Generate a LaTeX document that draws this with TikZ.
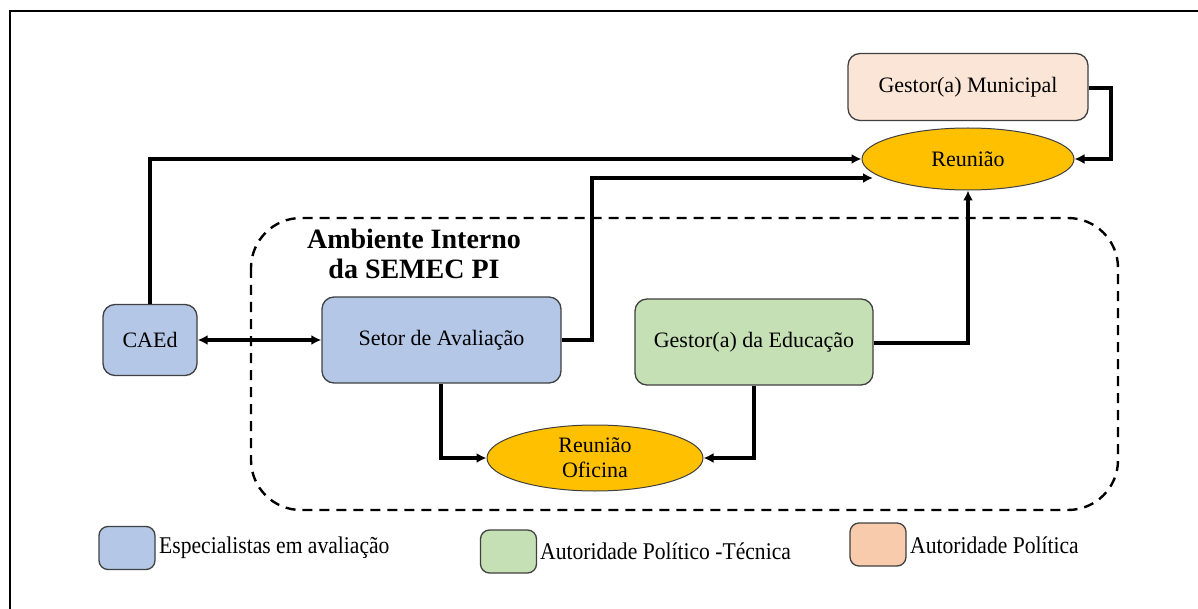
\documentclass[tikz,border=0pt]{standalone}
\usepackage{fontspec}
\setmainfont{Liberation Serif}
\newfontfamily\legfont{Liberation Serif}[FakeStretch=0.9]
\usetikzlibrary{shapes.geometric,arrows.meta}
\definecolor{bluebox}{HTML}{B4C7E7}
\definecolor{greenbox}{HTML}{C5E0B4}
\definecolor{peachbox}{HTML}{FBE5D6}
\definecolor{peachleg}{HTML}{F8CBAD}
\definecolor{gold}{HTML}{FFC000}
\tikzset{
  box/.style={draw=black!75, line width=1.3pt, rounded corners=12pt, inner sep=0pt, font=\fontsize{22}{25}\selectfont},
  oval/.style={ellipse, draw=black!75, line width=1pt, fill=gold, inner sep=0pt, align=center, font=\fontsize{22}{25}\selectfont},
  conn/.style={line width=3.4pt, -{Latex[length=10pt,width=10pt]}},
  legbox/.style={draw=black!75, line width=1.3pt, rounded corners=9pt, minimum width=56pt, minimum height=43pt, inner sep=0pt},
  legtext/.style={anchor=west, inner sep=0pt, font=\legfont\fontsize{24}{27}\selectfont}
}
\begin{document}
\begin{tikzpicture}[x=1pt,y=-1pt]
\useasboundingbox (0,0) rectangle (1198,609);
% frame
\coordinate (ftr) at (1198,11);
\coordinate (ftl) at (10,11);
\coordinate (fbl) at (10,609);
\draw[line width=2.4pt] (ftr) -- (ftl) -- (fbl);
% dashed region
\draw[line width=2.4pt, dash pattern=on 10pt off 7pt, rounded corners=50pt] (251,218) rectangle (1118,510);
\node[font=\bfseries\fontsize{28}{30}\selectfont, align=center] (amb) at (414,254) {Ambiente Interno\\da SEMEC PI};
% nodes
\node[box, fill=peachbox, minimum width=240pt, minimum height=67pt] (gm) at (968,87) {Gestor(a) Municipal};
\node[oval, minimum width=212pt, minimum height=62pt] (r1) at (968,159) {Reunião};
\node[box, fill=bluebox, minimum width=94pt, minimum height=71pt] (caed) at (150,340) {CAEd};
\node[box, fill=bluebox, minimum width=239pt, minimum height=86pt] (setor) at (441.5,340) {Setor de Avaliação};
\node[box, fill=greenbox, minimum width=238pt, minimum height=86pt] (ge) at (754,342) {Gestor(a) da Educação};
\node[oval, minimum width=216pt, minimum height=66pt] (r2) at (595,458) {Reunião\\Oficina};
% connectors
\coordinate (a1) at (1111,88);
\coordinate (a2) at (1111,159);
\draw[conn] (gm.east |- a1) -- (a1) -- (a2) -- (r1.east);
\coordinate (b1) at (150,159);
\draw[conn] (caed.north) -- (b1) -- (r1.west);
\draw[line width=3.4pt, {Latex[length=10pt,width=10pt]}-{Latex[length=10pt,width=10pt]}] (caed.east) -- (setor.west);
\coordinate (c1) at (592,340);
\coordinate (c2) at (592,178);
\coordinate (c3) at (873,178);
\draw[conn] (setor.east |- c1) -- (c1) -- (c2) -- (c3);
\coordinate (d1) at (968,343);
\draw[conn] (ge.east |- d1) -- (d1) -- (r1.south);
\coordinate (e1) at (441,458);
\draw[conn] (setor.south -| e1) -- (e1) -- (r2.west);
\coordinate (f1) at (754,458);
\draw[conn] (ge.south) -- (f1) -- (r2.east);
% legend
\node[legbox, fill=bluebox] (l1) at (127,548) {};
\node[legtext] (l1t) at (159,548) {Especialistas em avaliação};
\node[legbox, fill=greenbox] (l2) at (508.5,551.5) {};
\node[legtext] (l2t) at (540,551) {Autoridade Político -Técnica};
\node[legbox, fill=peachleg] (l3) at (878,544.5) {};
\node[legtext] (l3t) at (910,545) {Autoridade Política};
\end{tikzpicture}
\end{document}
